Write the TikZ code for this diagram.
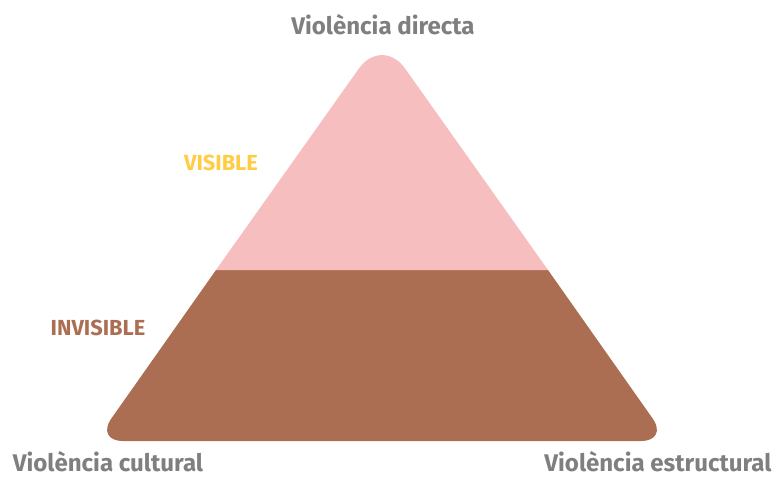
\documentclass[tikz,border=0pt]{standalone}
\usepackage{fontspec}
\setmainfont{Fira Sans}
\usepackage{tikz}
\usetikzlibrary{positioning, calc}
\definecolor{rosa}{HTML}{F6BEBF}
\definecolor{marro}{HTML}{AB6E52}
\definecolor{groc}{HTML}{FFCC44}
\definecolor{gris}{HTML}{7F7F7F}

\begin{document}
\begin{tikzpicture}[font=\bfseries\fontsize{13.7}{15}\selectfont,
	vertex/.style={text=gris, inner sep=0pt},
	nivell/.style={inner sep=0pt, font=\bfseries\fontsize{12.4}{14}\selectfont}]
			\useasboundingbox (0,0) rectangle (15.52,-9.58);
			\coordinate (apex) at (7.64,-0.72);
			\coordinate (bl) at (1.91,-8.82);
			\coordinate (br) at (13.37,-8.82);
			\coordinate (ml) at (4.32,-5.40);
			\coordinate (mr) at (10.96,-5.40);
			\fill[marro] (ml) [rounded corners=0.55cm] -- (bl) -- (br) [sharp corners] -- (mr) -- cycle;
			\fill[rosa] (ml) [rounded corners=0.8cm] -- (apex) [sharp corners] -- (mr) -- cycle;
			\node[vertex] (dir) at (7.66,-0.5) {Violència directa};
			\node[vertex, anchor=south] (cul) at (2.16,-9.44) {Violència cultural};
			\node[vertex, anchor=south] (est) at (13.16,-9.44) {Violència estructural};
			\node[nivell, text=groc] (vis) at (4.42,-3.26) {VISIBLE};
			\node[nivell, text=marro] (inv) at (1.96,-6.56) {INVISIBLE};
		\end{tikzpicture}
\end{document}
